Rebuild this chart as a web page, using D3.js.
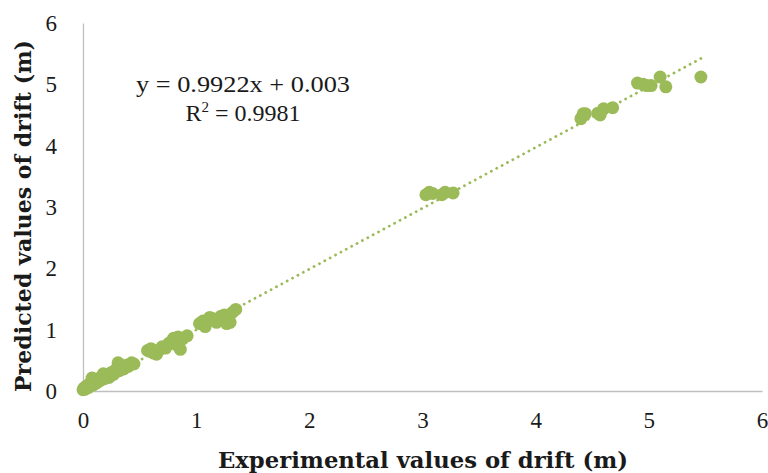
<!DOCTYPE html>
<html>
<head>
<meta charset="utf-8">
<script src="https://cdn.jsdelivr.net/npm/d3@7"></script>
<style>
  body { margin: 0; background: #fff; }
  text { font-family: "DejaVu Serif", "Liberation Serif", serif; fill: #1a1a1a; }
</style>
</head>
<body>
<div id="chart"></div>
<script>
// experimental vs predicted drift (m)
var expX = [0.00, 0.01, 0.02, 0.03, 0.05, 0.06, 0.08, 0.09, 0.10, 0.12, 0.13, 0.15, 0.17, 0.18, 0.19,
    0.21, 0.23, 0.25, 0.27, 0.29, 0.31, 0.32, 0.34, 0.36, 0.38, 0.40, 0.43, 0.45,
    0.57, 0.60, 0.62, 0.65, 0.68, 0.70, 0.73, 0.76, 0.78, 0.80, 0.82, 0.84, 0.86, 0.88, 0.92,
    1.03, 1.06, 1.08, 1.12, 1.15, 1.18, 1.22, 1.25, 1.27, 1.30, 1.32, 1.35,
    3.03, 3.06, 3.09, 3.17, 3.20, 3.27,
    4.40, 4.42, 4.44, 4.55, 4.57, 4.60, 4.68,
    4.90, 4.95, 4.98, 5.02, 5.10, 5.15, 5.46];
var predY = [0.02, 0.05, 0.03, 0.08, 0.06, 0.12, 0.21, 0.10, 0.15, 0.13, 0.20, 0.17, 0.24, 0.28, 0.20,
    0.25, 0.22, 0.30, 0.27, 0.35, 0.46, 0.33, 0.38, 0.36, 0.42, 0.40, 0.46, 0.44,
    0.66, 0.69, 0.62, 0.60, 0.68, 0.72, 0.70, 0.78, 0.80, 0.86, 0.76, 0.88, 0.68, 0.85, 0.90,
    1.10, 1.14, 1.05, 1.20, 1.18, 1.12, 1.22, 1.24, 1.10, 1.12, 1.28, 1.33,
    3.20, 3.24, 3.22, 3.20, 3.24, 3.23,
    4.44, 4.52, 4.52, 4.53, 4.50, 4.60, 4.62,
    5.02, 5.00, 4.98, 4.98, 5.12, 4.96, 5.12];
var xTicks = [0, 1, 2, 3, 4, 5, 6];
var yTicks = [0, 1, 2, 3, 4, 5, 6];
var slope = 0.9922, intercept = 0.003;
var eqText = "y = 0.9922x + 0.003";
var r2Value = "0.9981";

var w = 768, h = 473;
var green = "#9bbb59";
var axisGrey = "#bfbfbf";
var tickFont = "Liberation Serif";

var svg = d3.select("#chart").append("svg")
    .attr("width", w)
    .attr("height", h);

var xScale = d3.scaleLinear().domain([0, 6]).range([83, 762]);
var yScale = d3.scaleLinear().domain([0, 6]).range([391, 23]);

// axis lines only, no tick marks
var xAxis = d3.axisBottom(xScale).tickValues(xTicks).tickSize(0).tickPadding(0).tickFormat(d3.format("d"));
var yAxis = d3.axisLeft(yScale).tickValues(yTicks).tickSize(0).tickPadding(0).tickFormat(d3.format("d"));

var gx = svg.append("g")
    .attr("transform", "translate(0," + yScale(0) + ")")
    .call(xAxis)
    .attr("font-family", tickFont)
    .attr("font-size", 23);
gx.select(".domain").attr("stroke", axisGrey).attr("stroke-width", 1.3);
gx.selectAll("text")
    .attr("y", 37)
    .attr("dy", 0)
    .attr("fill", "#1a1a1a");

var gy = svg.append("g")
    .attr("transform", "translate(" + xScale(0) + ",0)")
    .call(yAxis)
    .attr("font-family", tickFont)
    .attr("font-size", 23);
gy.select(".domain").attr("stroke", axisGrey).attr("stroke-width", 1.3);
gy.selectAll("text")
    .attr("x", -26)
    .attr("dy", "0.33em")
    .attr("fill", "#1a1a1a");
svg.selectAll(".tick text").style("font-family", tickFont);

// trend line over data range
var xMax = d3.max(expX);
var trend = [[0, intercept], [xMax, slope * xMax + intercept]];
svg.append("path")
    .attr("d", d3.line()
        .x(function(d) { return xScale(d[0]); })
        .y(function(d) { return yScale(d[1]); })(trend))
    .attr("fill", "none")
    .attr("stroke", green)
    .attr("stroke-width", 2.8)
    .attr("stroke-linecap", "round")
    .attr("stroke-dasharray", "0.1 6");

// points
var pts = expX.map(function(x, i) { return { x: x, y: predY[i] }; });
svg.selectAll(".dot")
    .data(pts)
    .enter()
    .append("circle")
    .attr("class", "dot")
    .attr("cx", function(d) { return xScale(d.x); })
    .attr("cy", function(d) { return yScale(d.y); })
    .attr("r", 6.5)
    .attr("fill", green);

// equation label
svg.append("text")
    .attr("x", 243)
    .attr("y", 92)
    .attr("text-anchor", "middle")
    .attr("textLength", 214)
    .attr("lengthAdjust", "spacingAndGlyphs")
    .style("font-size", "24px")
    .style("font-family", tickFont)
    .text(eqText);

var r2 = svg.append("text")
    .attr("x", 243)
    .attr("y", 121)
    .attr("text-anchor", "middle")
    .style("font-size", "24px")
    .style("font-family", tickFont);
r2.append("tspan").text("R");
r2.append("tspan").attr("dy", -9).style("font-size", "15px").text("2");
r2.append("tspan").attr("dy", 9).text(" = " + r2Value);

// axis titles
svg.append("text")
    .attr("x", 423)
    .attr("y", 468)
    .attr("text-anchor", "middle")
    .attr("textLength", 410)
    .attr("lengthAdjust", "spacingAndGlyphs")
    .style("font-size", "22px")
    .style("font-weight", "bold")
    .text("Experimental values of drift (m)");

svg.append("text")
    .attr("transform", "translate(31,216) rotate(-90)")
    .attr("text-anchor", "middle")
    .attr("textLength", 352)
    .attr("lengthAdjust", "spacingAndGlyphs")
    .style("font-size", "22px")
    .style("font-weight", "bold")
    .text("Predicted values of drift (m)");
</script>
</body>
</html>
